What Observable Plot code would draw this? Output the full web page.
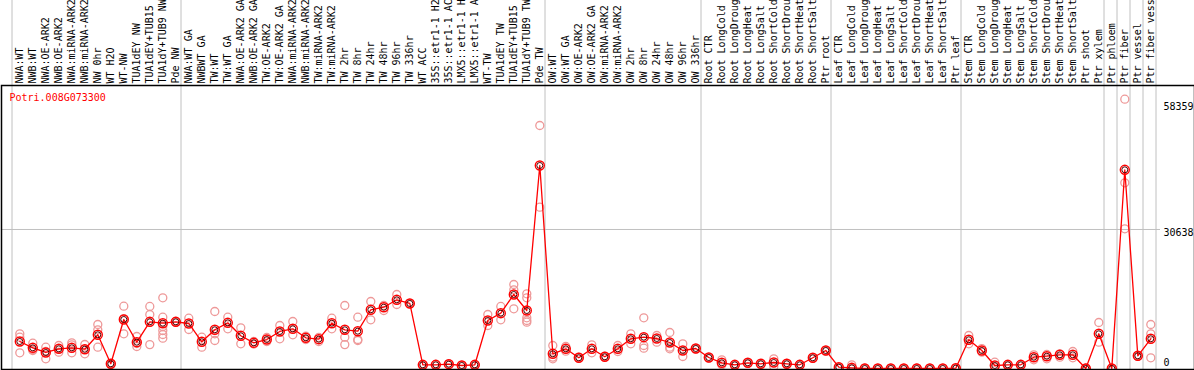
<!DOCTYPE html>
<html>
<head>
<meta charset="utf-8">
<script src="https://cdn.jsdelivr.net/npm/d3@7"></script>
<script src="https://cdn.jsdelivr.net/npm/@observablehq/plot@0.6"></script>
<style>
  html, body { margin: 0; padding: 0; background: #fff; }
  #chart svg { display: block; }
</style>
</head>
<body>
<div id="chart"></div>
<script>
const geneId = "Potri.008G073300";

const categories = [
  "NWA:WT", "NWB:WT", "NWA:OE-ARK2", "NWB:OE-ARK2", "NWA:miRNA-ARK2", "NWB:miRNA-ARK2",
  "NW 0hr", "WT H2O", "WT-NW", "TUA1dEY NW", "TUA1dEY+TUB15", "TUA1dY+TUB9 NW", "Pde NW",
  "NWA:WT GA", "NWBWT GA", "TW:WT", "TW:WT GA", "NWA:OE-ARK2 GA", "NWB:OE-ARK2 GA",
  "TW:OE-ARK2", "TW:OE-ARK2 GA", "NWA:miRNA-ARK2", "NWB:miRNA-ARK2", "TW:miRNA-ARK2", "TW:miRNA-ARK2",
  "TW 2hr", "TW 8hr", "TW 24hr", "TW 48hr", "TW 96hr", "TW 336hr", "WT ACC",
  "35S::etr1-1 H2O", "35S::etr1-1 ACC", "LMX5::etr1-1 H2O", "LMX5::etr1-1 ACC",
  "WT-TW", "TUA1dEY TW", "TUA1dEY+TUB15", "TUA1dY+TUB9 TW", "Pde TW",
  "OW:WT", "OW:WT GA", "OW:OE-ARK2", "OW:OE-ARK2 GA", "OW:miRNA-ARK2", "OW:miRNA-ARK2",
  "OW 2hr", "OW 8hr", "OW 24hr", "OW 48hr", "OW 96hr", "OW 336hr",
  "Root CTR", "Root LongCold", "Root LongDrought", "Root LongHeat", "Root LongSalt",
  "Root ShortCold", "Root ShortDrought", "Root ShortHeat", "Root ShortSalt", "Ptr root",
  "Leaf CTR", "Leaf LongCold", "Leaf LongDrought", "Leaf LongHeat", "Leaf LongSalt",
  "Leaf ShortCold", "Leaf ShortDrought", "Leaf ShortHeat", "Leaf ShortSalt", "Ptr leaf",
  "Stem CTR", "Stem LongCold", "Stem LongDrought", "Stem LongHeat", "Stem LongSalt",
  "Stem ShortCold", "Stem ShortDrought", "Stem ShortHeat", "Stem ShortSalt",
  "Ptr shoot", "Ptr xylem", "Ptr phloem", "Ptr fiber", "Ptr vessel", "Ptr fiber vessel"
];

const means = [
  5950, 4560, 3530, 4340, 4560, 4250, 7430, 1040, 10800, 5800, 10290, 9980, 10290,
  9920, 5890, 8530, 10070, 7210, 5660, 6390, 8160, 8750, 6770, 6460, 9980,
  8530, 8220, 12940, 13510, 15140, 14330, 815,
  815, 950, 660, 815,
  10580, 12190, 16310, 12780, 44740,
  3240, 4340, 2360, 4340, 2580, 4340,
  6550, 6900, 6610, 5730, 3970, 4410,
  2420, 1260, 815, 1260, 1040, 1320, 1040, 815, 2360, 3970,
  290, 150, 0, 0, 0, 0, 0, 0, 0, 70,
  6330, 3970, 660, 815, 815, 2490, 2710, 3020, 3020,
  0, 7650, 0, 43790, 2800, 6550
];

const replicates = [
  [7650, 6900, 3460], [5580, 3970, 4140], [4700, 2140, 3750], [5070, 3590, 4360],
  [5660, 5220, 3460], [5290, 4250, 3240], [9700, 8530, 4700], [1040, 900, 1150],
  [13730, 7650, 11000], [7050, 4850, 5500], [13670, 11900, 5270],
  [15580, 11310, 9260, 8380, 7490, 6680], [10290, 10400, 10200],
  [11090, 8600], [6900, 4700], [12560, 7650, 6170], [11310, 8750], [8970, 5440],
  [5950, 5400], [6830, 5950], [9480, 6550], [10360, 7430], [7120, 6390], [5950, 6830],
  [11090, 8750],
  [13890, 6900, 5270], [11310, 6390, 6170], [14770, 10730], [13890, 12780],
  [16310, 14110], [14330, 14300], [815, 700],
  [815, 900], [950, 1000], [660, 700], [815, 750],
  [11900, 9480], [13670, 10730], [18510, 17350, 13160],
  [16460, 15580, 11170, 10580, 10210], [53560, 35550],
  [5070, 2140, 2510], [4850, 3810], [2360, 2500], [5220, 3460], [2580, 2700], [5070, 3750],
  [7650, 5440], [11170, 5070, 4470], [7270, 5800], [7930, 4700, 4340], [5440, 2650], [4410, 4300],
  [2420, 2300], [1920, 815], [815, 700], [1260, 1150], [1040, 950], [2140, 440],
  [1040, 1100], [815, 900], [2360, 2250], [3970, 3850],
  [290, 200], [815, 0], [0, 50], [0, 30], [0, 40], [0, 20], [0, 60], [0, 30], [0, 40], [70, 30],
  [7270, 5440], [3590, 4400], [1390, 300], [815, 700], [815, 900], [3020, 1920],
  [3090, 2140], [3240, 2490], [3750, 2360],
  [0, 60], [10140, 5800], [0, 40], [59350, 40930, 30790], [2800, 2700], [9700, 7650, 2360]
];

const groupStarts = [0, 13, 41, 53, 63, 73, 84, 85, 86, 87, 88];
const gridValues = [30638];
const tickValues = [30638, 58359];
const zeroTick = [0];

const meanData = categories.map((name, i) => ({i, name, value: means[i]}));
const repData = replicates.flatMap((vals, i) => vals.map(v => ({i, value: v})));

const chart = Plot.plot({
  width: 1194,
  height: 370,
  marginTop: 85,
  marginLeft: 1,
  marginRight: 0,
  marginBottom: 1,
  style: {fontFamily: "'DejaVu Sans Mono', monospace", fontSize: "10px", background: "white"},
  x: {type: "linear", domain: [0, 87], range: [19.3, 1150.3], axis: null},
  y: {domain: [0, 62150], range: [368, 86], axis: null},
  marks: [
    Plot.ruleX(groupStarts, {x: d => d - 0.6, stroke: "#c0c0c0", strokeWidth: 1, insetTop: -85, insetBottom: -1}),
    Plot.ruleY(gridValues, {y: d => d, stroke: "#c0c0c0", strokeWidth: 1, insetRight: 34}),
    Plot.text(categories, {
      x: (d, i) => i, frameAnchor: "top", rotate: -90, textAnchor: "start", lineAnchor: "middle",
      dy: -2, fill: "black", fontSize: 10
    }),
    Plot.text([geneId], {frameAnchor: "top-left", textAnchor: "start", lineAnchor: "middle", dx: 8, dy: 12, fill: "red", fontSize: 10}),
    Plot.text(tickValues, {y: d => d, text: d => String(d), frameAnchor: "right", textAnchor: "start", lineAnchor: "middle", dx: -31, dy: 3.5, fill: "black", fontSize: 10}),
    Plot.text(zeroTick, {y: d => d, text: d => String(d), frameAnchor: "right", textAnchor: "start", lineAnchor: "middle", dx: -31, dy: -5.5, fill: "black", fontSize: 10}),
    Plot.dot(repData, {x: "i", y: "value", r: 4, stroke: "#ee9999", strokeWidth: 1.3, fill: "none"}),
    Plot.line(meanData, {x: "i", y: "value", stroke: "red", strokeWidth: 1.3}),
    Plot.dot(meanData, {x: "i", y: "value", r: 4.5, stroke: "red", strokeWidth: 1.4, fill: "none"}),
    Plot.dot(meanData, {x: "i", y: "value", r: 3, stroke: "#500000", strokeWidth: 1, fill: "none"}),
    Plot.frame({stroke: "black", strokeWidth: 1.5})
  ]
});
document.getElementById("chart").appendChild(chart);
</script>
</body>
</html>
